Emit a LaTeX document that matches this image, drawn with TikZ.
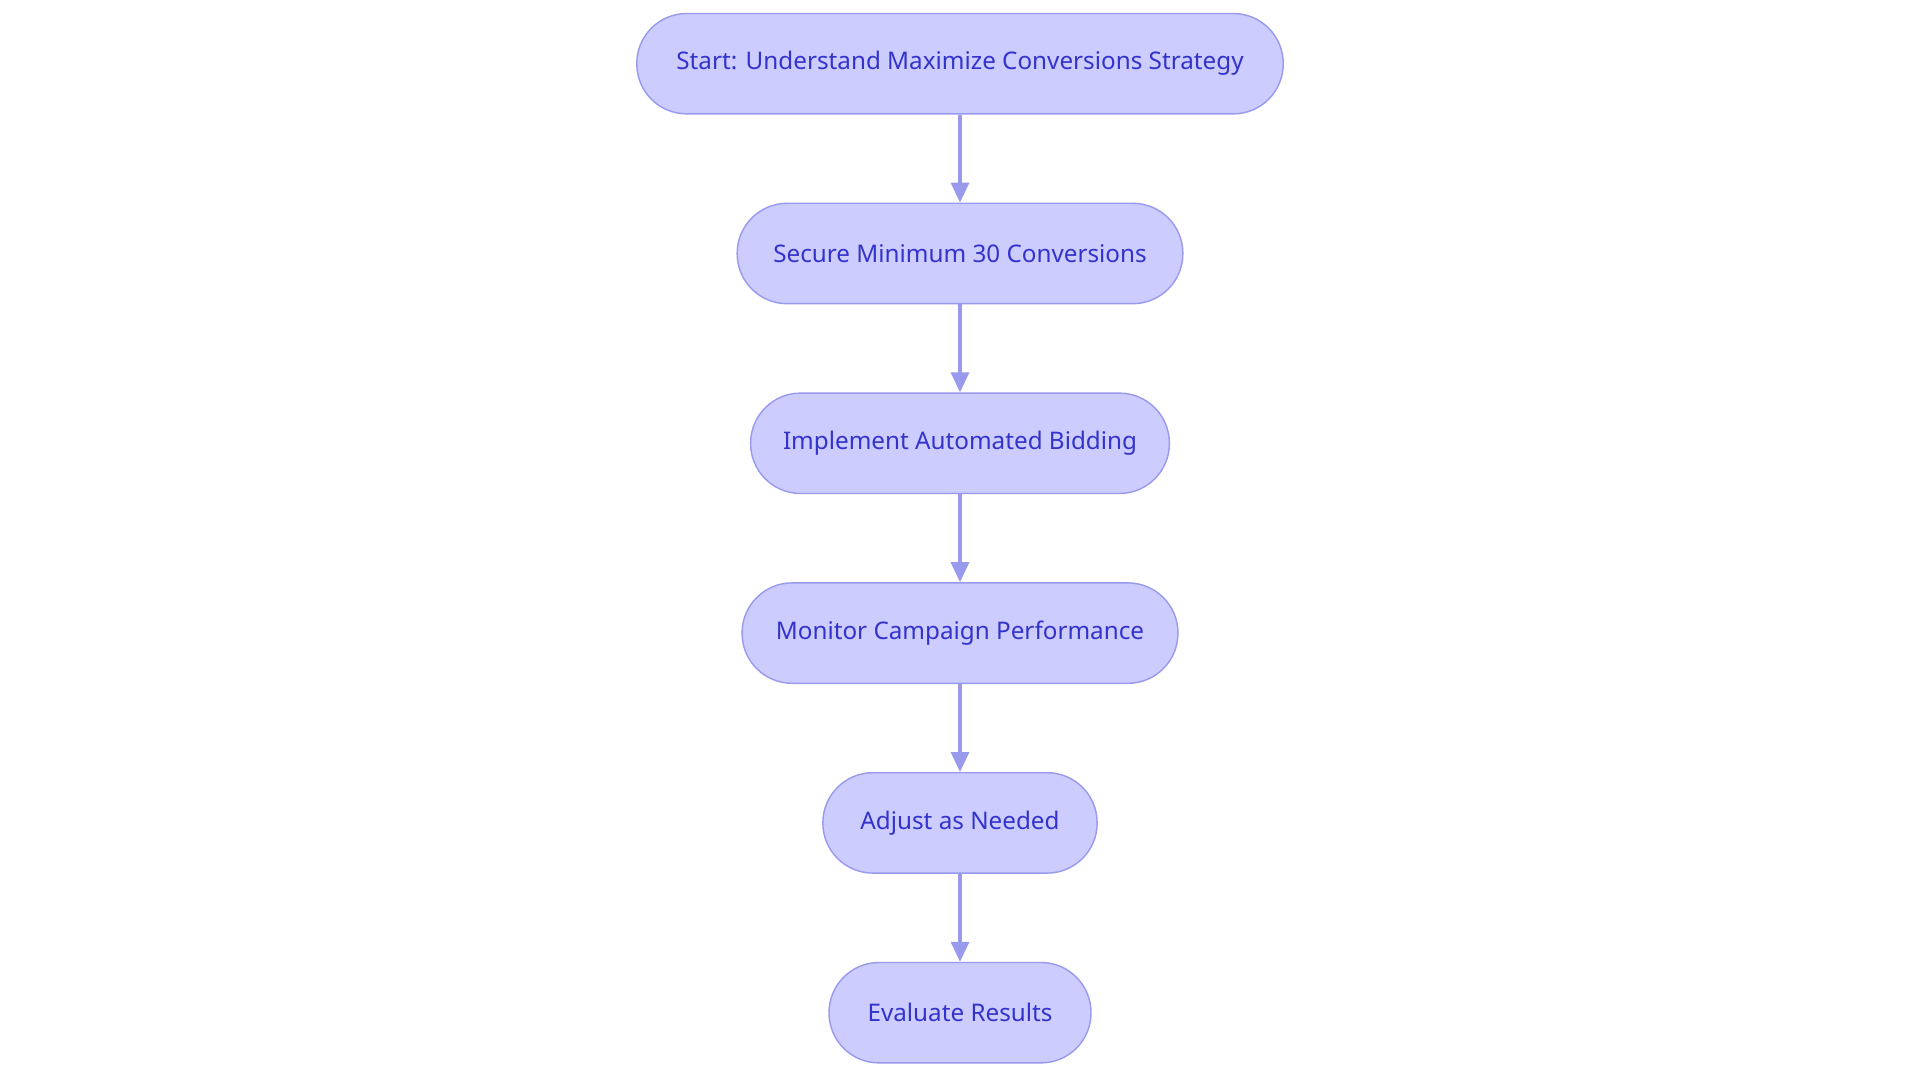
\documentclass[tikz,border=0pt]{standalone}
\usepackage{fontspec}
\setmainfont{Noto Sans}
\usetikzlibrary{arrows.meta}
\definecolor{nfill}{HTML}{CCCCFF}
\definecolor{nedge}{HTML}{9999EE}
\definecolor{ntext}{HTML}{3333CC}
\begin{document}
\begin{tikzpicture}[x=1cm,y=-1cm,
  box/.style={draw=nedge,fill=nfill,rounded corners=0.5cm,minimum height=1.004cm,text=ntext,font=\fontsize{6.9pt}{8pt}\selectfont,inner sep=0pt,line width=0.4pt},
  arr/.style={draw=nedge,line width=0.9pt,-{Triangle[length=0.2cm,width=0.18cm]}}]
\useasboundingbox (0,0) rectangle (19.2,10.83);
\node[box,minimum width=6.465cm] (a) at (9.6,0.637) {Start: Understand Maximize Conversions Strategy};
\node[box,minimum width=4.457cm] (b) at (9.6,2.535) {Secure Minimum 30 Conversions};
\node[box,minimum width=4.188cm] (c) at (9.6,4.433) {Implement Automated Bidding};
\node[box,minimum width=4.359cm] (d) at (9.6,6.331) {Monitor Campaign Performance};
\node[box,minimum width=2.743cm] (e) at (9.6,8.229) {Adjust as Needed};
\node[box,minimum width=2.620cm] (f) at (9.6,10.127) {Evaluate Results};
\draw[arr] (a) -- (b);
\draw[arr] (b) -- (c);
\draw[arr] (c) -- (d);
\draw[arr] (d) -- (e);
\draw[arr] (e) -- (f);
\end{tikzpicture}
\end{document}
